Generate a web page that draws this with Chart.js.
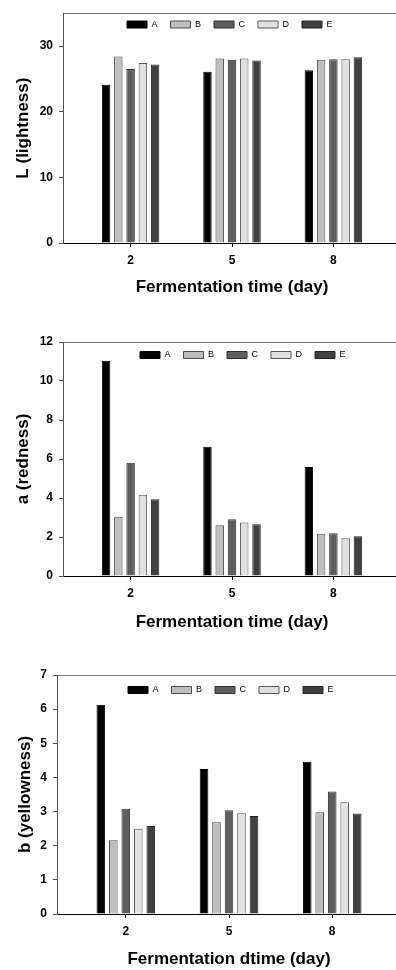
<!DOCTYPE html>
<html>
<head>
<meta charset="utf-8">
<title>Colour parameters during fermentation</title>
<script src="https://cdn.jsdelivr.net/npm/chart.js@4.4.1/dist/chart.umd.min.js"></script>
<style>
  html, body { margin: 0; padding: 0; background: #fff; width: 396px; height: 970px; overflow: hidden; }
  .panel { position: absolute; left: 0; }
</style>
</head>
<body>
<div class="panel" style="top:0"><canvas id="chartL" width="420" height="320"></canvas></div>
<div class="panel" style="top:320px"><canvas id="chartA" width="420" height="320"></canvas></div>
<div class="panel" style="top:640px"><canvas id="chartB" width="420" height="330"></canvas></div>
<script>
const days = [2, 5, 8];
const groups = ['A', 'B', 'C', 'D', 'E'];

// one row per group (A..E), one value per fermentation day
const lightness = [
  [24.1, 26.1, 26.3],
  [28.4, 28.1, 27.9],
  [26.5, 27.9, 28.0],
  [27.4, 28.1, 28.0],
  [27.2, 27.8, 28.3]
];
const redness = [
  [11.04, 6.63, 5.59],
  [3.04, 2.60, 2.17],
  [5.81, 2.91, 2.19],
  [4.17, 2.75, 1.93],
  [3.93, 2.65, 2.04]
];
const yellowness = [
  [6.13, 4.25, 4.46],
  [2.16, 2.69, 2.98],
  [3.08, 3.04, 3.59],
  [2.50, 2.95, 3.27],
  [2.58, 2.87, 2.94]
];

const lightnessTicks = [0, 10, 20, 30];
const rednessTicks = [0, 2, 4, 6, 8, 10, 12];
const yellownessTicks = [0, 1, 2, 3, 4, 5, 6, 7];

const fills = ['#000000', '#bebebe', '#5e5e5e', '#e0e0e0', '#404040'];
const edges = ['#000000', '#4d4d4d', '#303030', '#5a5a5a', '#242424'];

Chart.defaults.font.family = 'Arial, "Liberation Sans", sans-serif';
Chart.defaults.color = '#000';

const LEGEND_FONT = 9;
const LEGEND_PAD = 13;

function makeChart(id, values, yTicks, yMax, yTitle, xTitle, box) {
  const canvas = document.getElementById(id);
  const h = canvas.height;

  // legend sits inside the plot frame instead of taking space above it
  const legendInPlot = {
    id: 'legendInPlot',
    beforeLayout(chart) {
      const lg = chart.legend;
      if (!lg || lg.$inPlot) return;
      const fit = lg.fit;
      lg.fit = function () { fit.call(this); this.$h = this.height; this.height = 0; };
      lg.$inPlot = true;
    },
    afterLayout(chart) {
      const lg = chart.legend;
      lg.left = box.legendX - LEGEND_PAD;
      lg.right = chart.width;
      lg.width = lg.right - lg.left;
      lg.top = box.legendY - LEGEND_FONT / 2 - LEGEND_PAD;
      lg.height = (lg.$h || 20) + LEGEND_PAD;
      lg.bottom = lg.top + lg.height;
    }
  };

  return new Chart(canvas, {
    type: 'bar',
    data: {
      labels: days,
      datasets: groups.map((g, i) => ({
        label: g,
        data: values[i],
        backgroundColor: fills[i],
        borderColor: edges[i],
        borderWidth: 1,
        categoryPercentage: 0.605,
        barPercentage: 0.69
      }))
    },
    options: {
      responsive: false,
      animation: false,
      layout: { padding: { top: box.top, left: 0, right: 19, bottom: 0 } },
      plugins: {
        tooltip: { enabled: false },
        legend: {
          position: 'top',
          align: 'start',
          labels: {
            boxWidth: 20,
            boxHeight: 7,
            padding: LEGEND_PAD,
            color: '#000',
            font: { size: LEGEND_FONT }
          }
        }
      },
      scales: {
        x: {
          type: 'linear',
          min: 0,
          max: 10,
          offset: false,
          afterBuildTicks(s) { s.ticks = days.map(v => ({ value: v })); },
          afterFit(s) { s.height = h - box.bottom; },
          grid: { offset: false, drawOnChartArea: false, drawTicks: true, tickLength: 4, color: '#000' },
          border: { display: true, color: '#000', width: 1 },
          ticks: { padding: 6, font: { size: 12, weight: 'bold' }, color: '#000' },
          title: {
            display: true,
            text: xTitle,
            font: { size: 17, weight: 'bold', lineHeight: 1.2 },
            padding: { top: 0, bottom: Math.max(0, h - box.titleY - 10.2) },
            color: '#000'
          }
        },
        x2: {
          type: 'linear',
          position: 'top',
          min: 0,
          max: 1,
          afterFit(s) { s.height = 0; },
          grid: { display: false, drawTicks: false },
          ticks: { display: false },
          border: { display: true, color: '#777', width: 1 }
        },
        y: {
          min: 0,
          max: yMax,
          afterBuildTicks(s) { s.ticks = yTicks.map(v => ({ value: v })); },
          afterFit(s) { s.width = box.left; },
          grid: { drawOnChartArea: false, drawTicks: true, tickLength: 4, color: '#555' },
          border: { display: true, color: '#555', width: 1 },
          ticks: { padding: 6, font: { size: 12, weight: 'bold' }, color: '#000' },
          title: {
            display: true,
            text: yTitle,
            font: { size: 17, weight: 'bold', lineHeight: 1.2 },
            padding: { top: box.titleX - 10.2, bottom: 0 },
            color: '#000'
          }
        }
      }
    },
    plugins: [legendInPlot]
  });
}

makeChart('chartL', lightness, lightnessTicks, 35, 'L (lightness)', 'Fermentation time (day)',
  { top: 9, bottom: 243, left: 63, titleX: 23, titleY: 287, legendX: 127, legendY: 24.5 });
makeChart('chartA', redness, rednessTicks, 12, 'a (redness)', 'Fermentation time (day)',
  { top: 22, bottom: 256, left: 63, titleX: 23, titleY: 302, legendX: 140, legendY: 35 });
makeChart('chartB', yellowness, yellownessTicks, 7, 'b (yellowness)', 'Fermentation dtime (day)',
  { top: 35, bottom: 274, left: 57, titleX: 25, titleY: 320, legendX: 128, legendY: 50 });
</script>
</body>
</html>
